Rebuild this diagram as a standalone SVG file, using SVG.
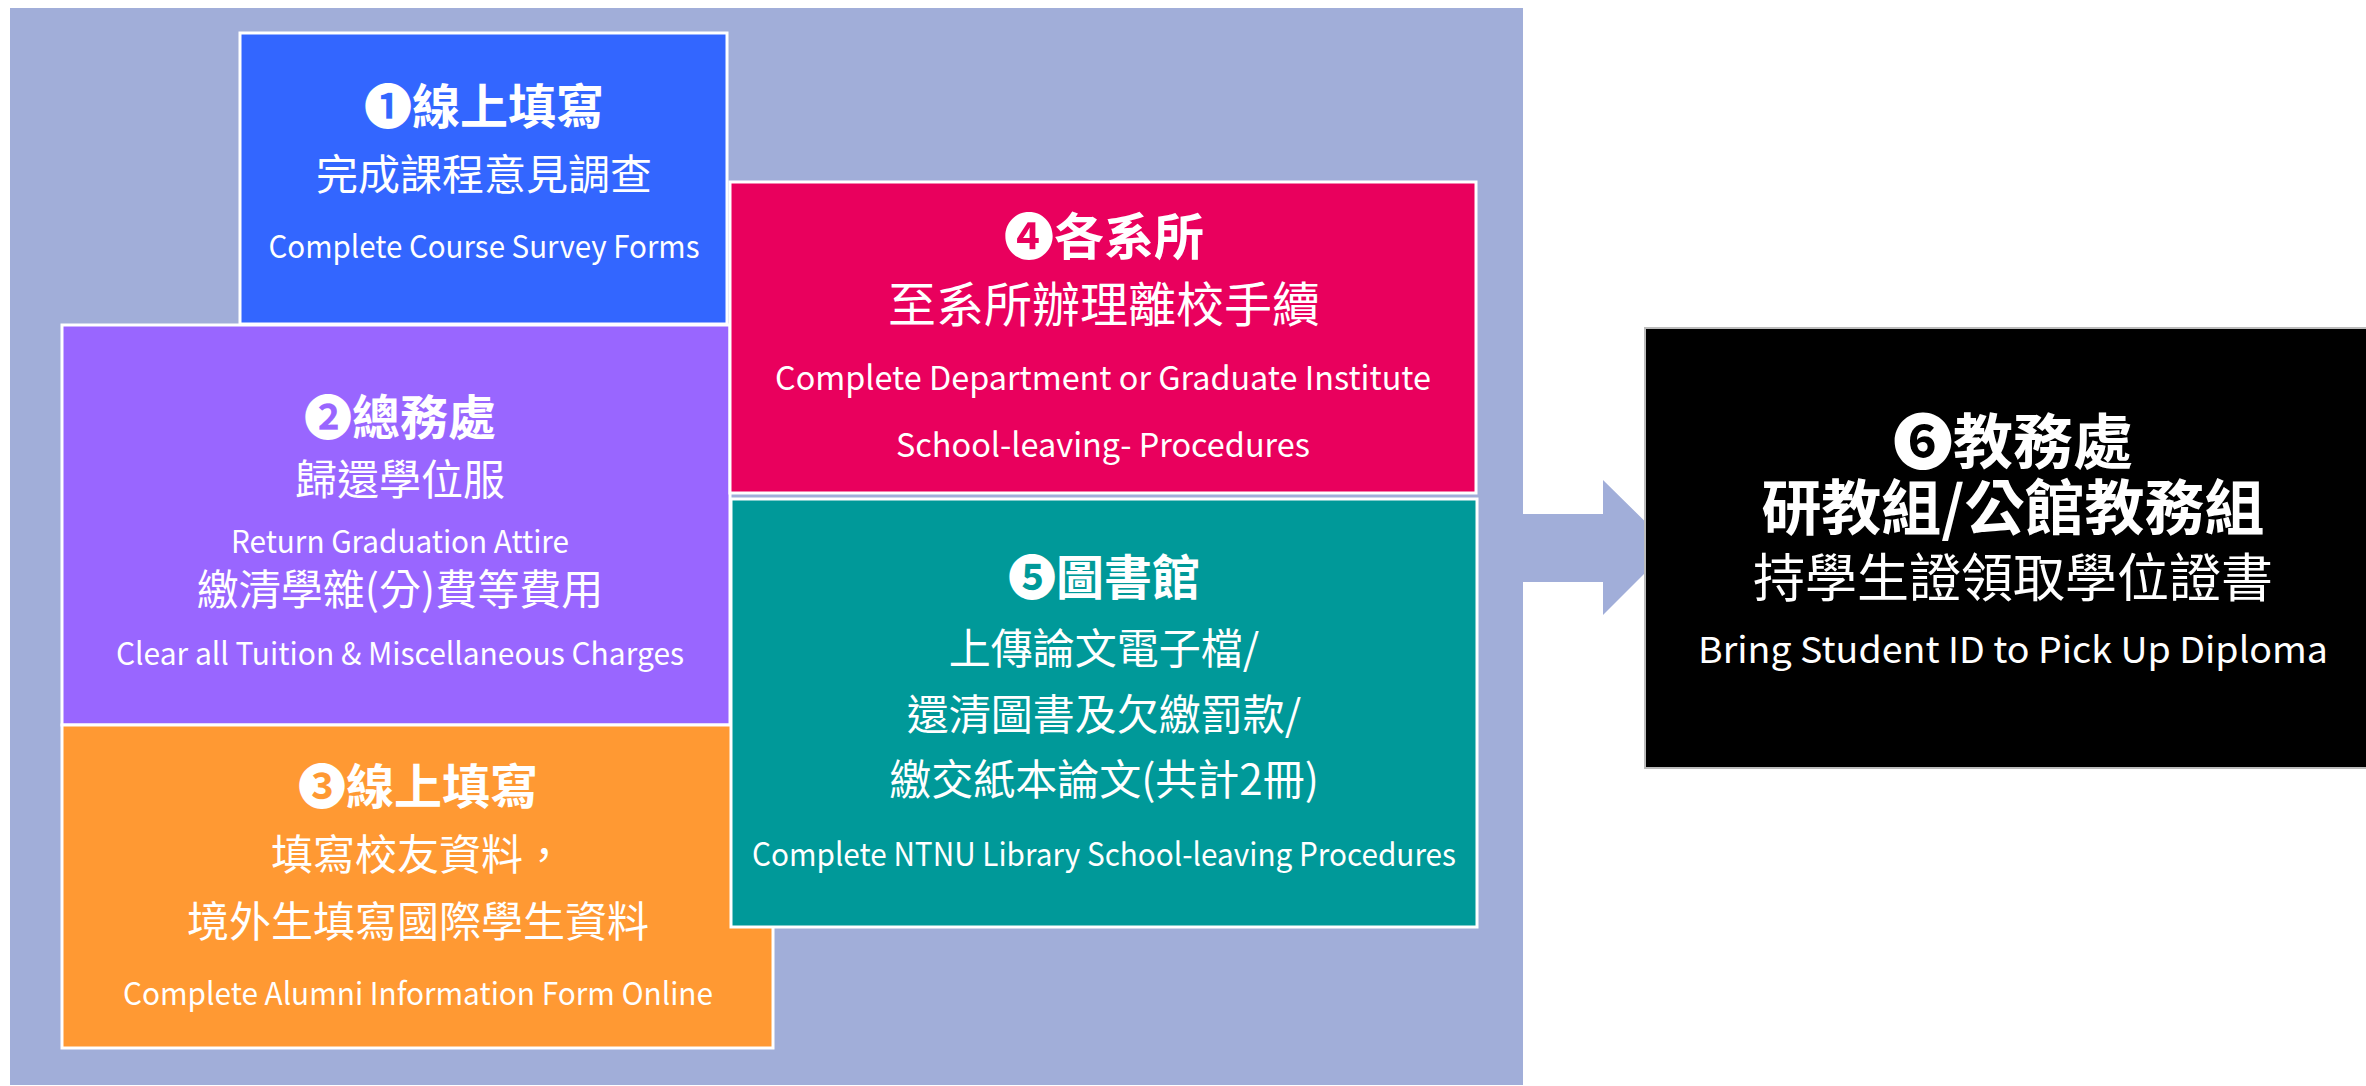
<svg xmlns="http://www.w3.org/2000/svg" width="2366" height="1086" viewBox="0 0 2366 1086">
<style>
text{font-family:"Noto Sans CJK TC","Noto Sans CJK SC","Liberation Sans",sans-serif;fill:#ffffff;text-anchor:middle}
.t{font-weight:bold;font-size:48px}
.c{font-size:42px}
.e{font-size:31px}
.box{stroke:#ffffff;stroke-width:3}
</style>
<rect x="0" y="0" width="2366" height="1086" fill="#ffffff"/>
<rect id="panel" x="10" y="8" width="1513" height="1077" fill="#A1AED9"/>
<g id="connectors">
<polygon points="1523,514 1603,514 1603,480 1671,547 1603,615 1603,582 1523,582" fill="#A1AED9"/>
</g>
<g id="node1">
<rect class="box" x="240" y="33" width="487" height="291" fill="#3366FF"/>
<text class="t" x="484" y="124">❶線上填寫</text>
<text class="c" x="484" y="190">完成課程意見調查</text>
<text class="e" x="484" y="258" textLength="431" lengthAdjust="spacingAndGlyphs">Complete Course Survey Forms</text>
</g>
<g id="node2">
<rect class="box" x="62" y="325" width="668" height="400" fill="#9966FF"/>
<text class="t" x="400" y="435">❷總務處</text>
<text class="c" x="400" y="495">歸還學位服</text>
<text class="e" x="400" y="553" textLength="338" lengthAdjust="spacingAndGlyphs">Return Graduation Attire</text>
<text class="c" x="400" y="605">繳清學雜(分)費等費用</text>
<text class="e" x="400" y="665" textLength="568" lengthAdjust="spacingAndGlyphs">Clear all Tuition &amp; Miscellaneous Charges</text>
</g>
<g id="node3">
<rect class="box" x="62" y="725" width="711" height="323" fill="#FF9933"/>
<text class="t" x="418" y="804">❸線上填寫</text>
<text class="c" x="418" y="870">填寫校友資料，</text>
<text class="c" x="418" y="937">境外生填寫國際學生資料</text>
<text class="e" x="418" y="1005" textLength="590" lengthAdjust="spacingAndGlyphs">Complete Alumni Information Form Online</text>
</g>
<g id="node4">
<rect class="box" x="730" y="182" width="746" height="311" fill="#E9005D"/>
<text class="t" x="1104" y="255" style="font-size:50px">❹各系所</text>
<text class="c" x="1104" y="322" style="font-size:48px">至系所辦理離校手續</text>
<text class="e" x="1103" y="390" style="font-size:33px" textLength="656" lengthAdjust="spacingAndGlyphs">Complete Department or Graduate Institute</text>
<text class="e" x="1103" y="457" style="font-size:33px" textLength="414" lengthAdjust="spacingAndGlyphs">School-leaving- Procedures</text>
</g>
<g id="node5">
<rect class="box" x="731" y="499" width="746" height="428" fill="#009999"/>
<text class="t" x="1104" y="595">❺圖書館</text>
<text class="c" x="1104" y="664">上傳論文電子檔/</text>
<text class="c" x="1104" y="730">還清圖書及欠繳罰款/</text>
<text class="c" x="1104" y="795">繳交紙本論文(共計2冊)</text>
<text class="e" x="1104" y="866" style="font-size:32px" textLength="704" lengthAdjust="spacingAndGlyphs">Complete NTNU Library School-leaving Procedures</text>
</g>
<g id="node6">
<rect x="1645" y="328" width="740" height="440" fill="#000000" stroke="#bbbbbb" stroke-width="2"/>
<text class="t" x="2013" y="464" style="font-size:60px">❻教務處</text>
<text class="t" x="2013" y="530" style="font-size:60px">研教組/公館教務組</text>
<text class="c" x="2013" y="597" style="font-size:52px">持學生證領取學位證書</text>
<text class="e" x="2013" y="663" style="font-size:36px" textLength="630" lengthAdjust="spacingAndGlyphs">Bring Student ID to Pick Up Diploma</text>
</g>
</svg>
